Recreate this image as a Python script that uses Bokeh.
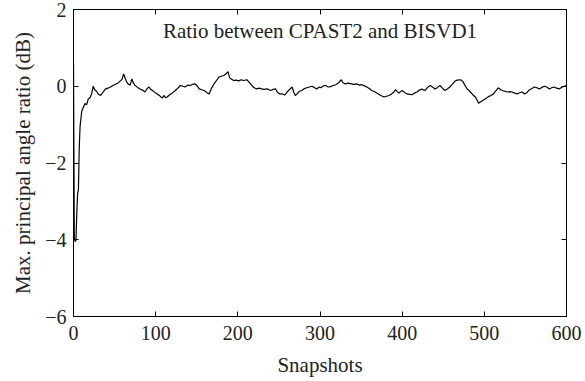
from bokeh.plotting import figure
from bokeh.models import Label, LinearAxis, FixedTicker, Range1d
from bokeh.embed import file_html
from bokeh.resources import INLINE

snapshots = [0, 1, 2, 3, 4, 5, 6, 7, 8, 10, 12, 14, 16, 18, 20, 22, 24, 26, 28, 30,
             33, 36, 39, 42, 45, 48, 51, 54, 57, 59, 61, 63, 65, 67, 69, 71, 73, 75, 78, 81,
             84, 87, 90, 92, 94, 96, 99, 102, 105, 108, 110, 112, 114, 117, 120, 124, 127, 130, 133, 136,
             139, 142, 145, 148, 151, 153, 156, 159, 162, 165, 168, 171, 174, 177, 180, 183, 186, 188, 190, 192,
             195, 198, 201, 204, 207, 211, 214, 217, 220, 223, 226, 229, 232, 236, 240, 243, 246, 248, 251, 254,
             257, 260, 263, 266, 268, 270, 272, 275, 278, 281, 284, 287, 290, 293, 296, 299, 301, 304, 307, 310,
             313, 316, 319, 322, 326, 328, 331, 334, 337, 341, 345, 348, 351, 354, 357, 360, 363, 367, 371, 374,
             378, 381, 384, 387, 390, 392, 394, 396, 398, 400, 403, 406, 409, 412, 415, 418, 421, 424, 426, 428,
             431, 434, 437, 440, 443, 446, 449, 452, 455, 458, 461, 464, 467, 471, 474, 477, 479, 481, 483, 486,
             489, 491, 493, 496, 499, 502, 505, 508, 511, 514, 517, 520, 522, 525, 528, 531, 534, 537, 540, 543,
             546, 549, 552, 555, 558, 561, 564, 567, 570, 573, 576, 579, 582, 585, 588, 591, 594, 597, 600]

ratio_db = [0.6, -3.95, -4.05, -4.0, -3.3, -2.8, -2.7, -1.6, -1.05, -0.65, -0.55, -0.45, -0.48, -0.33, -0.3, -0.2, 0.0, -0.1, -0.13, -0.2,
            -0.24, -0.15, -0.07, -0.05, -0.02, 0.02, 0.05, 0.08, 0.14, 0.18, 0.32, 0.2, 0.1, 0.05, 0.03, 0.19, 0.08, 0.02, -0.03, -0.07,
            -0.1, -0.15, -0.05, -0.02, -0.08, -0.11, -0.16, -0.2, -0.25, -0.31, -0.24, -0.3, -0.28, -0.22, -0.18, -0.11, -0.05, 0.02, 0.0, -0.02,
            0.03, 0.02, 0.05, 0.06, 0.0, -0.07, -0.09, -0.11, -0.16, -0.2, -0.05, 0.06, 0.15, 0.24, 0.26, 0.28, 0.33, 0.38, 0.22, 0.19,
            0.15, 0.16, 0.14, 0.17, 0.15, 0.17, 0.1, 0.02, -0.04, -0.07, -0.05, -0.07, -0.08, -0.07, -0.11, -0.08, -0.07, -0.15, -0.2, -0.2,
            -0.23, -0.15, -0.08, -0.02, -0.15, -0.24, -0.2, -0.13, -0.11, -0.06, -0.04, -0.02, 0.0, -0.03, -0.07, -0.02, -0.04, 0.01, 0.02, -0.02,
            -0.01, 0.02, 0.04, 0.08, 0.17, 0.09, 0.06, 0.08, 0.07, 0.05, 0.06, 0.03, 0.04, 0.01, -0.02, -0.06, -0.11, -0.15, -0.2, -0.24,
            -0.28, -0.26, -0.24, -0.2, -0.15, -0.09, -0.14, -0.18, -0.14, -0.11, -0.16, -0.2, -0.21, -0.22, -0.18, -0.15, -0.1, -0.07, -0.1, -0.11,
            -0.03, 0.02, -0.02, -0.07, -0.03, 0.02, -0.05, -0.11, -0.07, -0.02, 0.05, 0.13, 0.16, 0.17, 0.12, 0.0, -0.07, -0.1, -0.15, -0.22,
            -0.28, -0.35, -0.44, -0.4, -0.36, -0.32, -0.27, -0.24, -0.2, -0.12, -0.04, -0.09, -0.11, -0.13, -0.15, -0.14, -0.15, -0.18, -0.2, -0.17,
            -0.15, -0.2, -0.16, -0.09, -0.06, -0.02, -0.04, -0.07, -0.03, 0.0, -0.02, -0.07, -0.04, -0.02, -0.05, -0.07, -0.03, 0.0, 0.02]

x_ticks = [0, 100, 200, 300, 400, 500, 600]
y_ticks = [-6, -4, -2, 0, 2]
y_tick_labels = {-6: "\u22126", -4: "\u22124", -2: "\u22122", 0: "0", 2: "2"}
title_text = "Ratio between CPAST2 and BISVD1"
x_label = "Snapshots"
y_label = "Max. principal angle ratio (dB)"

FONT = "Liberation Serif"
FS = "20px"
COL = "#222222"

p = figure(width=585, height=381, output_backend="svg", toolbar_location=None,
           x_range=Range1d(0, 600), y_range=Range1d(-6, 2))
p.min_border_left = 73
p.min_border_right = 19
p.min_border_top = 9
p.min_border_bottom = 65
p.background_fill_color = "white"
p.border_fill_color = "white"
p.outline_line_color = "black"
p.outline_line_width = 1
p.grid.visible = False

p.line(snapshots, ratio_db, line_color="black", line_width=1.2)

for ax in (p.xaxis[0], p.yaxis[0]):
    ax.major_tick_in = 5
    ax.major_tick_out = 0
    ax.minor_tick_line_color = None
    ax.axis_line_color = "black"
    ax.major_tick_line_color = "black"
    ax.major_label_text_font = FONT
    ax.major_label_text_font_size = FS
    ax.major_label_text_color = COL
    ax.axis_label_text_font = FONT
    ax.axis_label_text_font_size = "21px"
    ax.axis_label_text_font_style = "normal"
    ax.axis_label_text_color = COL

p.xaxis[0].ticker = FixedTicker(ticks=x_ticks)
p.yaxis[0].ticker = FixedTicker(ticks=y_ticks)
p.yaxis[0].major_label_overrides = y_tick_labels
p.xaxis[0].axis_label = x_label
p.yaxis[0].axis_label = y_label
p.xaxis[0].major_label_standoff = 9
p.yaxis[0].major_label_standoff = 7
p.xaxis[0].axis_label_standoff = 10
p.yaxis[0].axis_label_standoff = 7

top_ax = LinearAxis(ticker=FixedTicker(ticks=x_ticks), major_label_text_font_size="1px",
                    major_label_text_color=None,
                    major_tick_in=5, major_tick_out=0, minor_tick_line_color=None,
                    axis_line_color="black")
right_ax = LinearAxis(ticker=FixedTicker(ticks=y_ticks), major_label_text_font_size="1px",
                      major_label_text_color=None,
                      major_tick_in=5, major_tick_out=0, minor_tick_line_color=None,
                      axis_line_color="black")
top_ax.major_label_standoff = 0
right_ax.major_label_standoff = 0
p.add_layout(top_ax, "above")
p.add_layout(right_ax, "right")

p.add_layout(Label(x=300, y=1.45, text=title_text, text_font=FONT, text_font_size="21px",
                   text_align="center", text_baseline="middle", text_color=COL))

open("out.html", "w").write(file_html(p, INLINE))
